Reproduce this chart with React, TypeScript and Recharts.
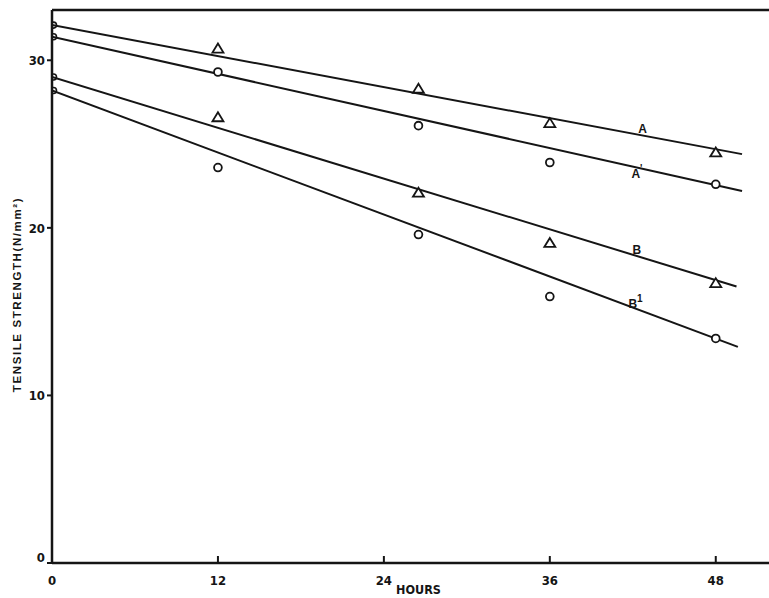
import { ComposedChart, Line, Scatter, XAxis, YAxis, ReferenceLine } from 'recharts';

// hours at which samples were tested (0 h points sit on the axis)
const hours = [12, 26.5, 36, 48];
const triA = [30.7, 28.3, 26.25, 24.5];
const circA1 = [29.3, 26.1, 23.9, 22.6];
const triB = [26.6, 22.1, 19.1, 16.7];
const circB1 = [23.6, 19.6, 15.9, 13.4];
const startVals = [32.1, 31.4, 29.0, 28.2];

// fitted straight lines: value at 0 h and at their right end
const fitStart = [32.1, 31.4, 29.0, 28.2];
const fitEnd = [24.4, 22.2, 16.5, 12.9];
const fitEndHour = [49.9, 49.9, 49.5, 49.6];

const curveNames = ['A', 'A', 'B', 'B'];
const curveSup = ['', "'", '', '1'];
const labelHour = [42.7, 42.3, 42.3, 42.2];
const labelVal = [25.95, 23.3, 18.75, 15.5];

const xTicks = [0, 12, 24, 36, 48];
const yTicks = [0, 10, 20, 30];

const INK = '#151515';
const tickFont = '"DejaVu Sans Condensed", "DejaVu Sans", sans-serif';
const labelFont = '"Liberation Sans", Arial, sans-serif';

const pts = (vals: number[]) => vals.map((y, i) => ({ x: hours[i], y }));
const fits = fitStart.map((s, i) => [
  { x: 0, y: s },
  { x: fitEndHour[i], y: fitEnd[i] },
]);
const starts = startVals.map((y) => ({ x: 0, y }));
const names = curveNames.map((n, i) => ({ x: labelHour[i], y: labelVal[i], n, sup: curveSup[i] }));

function HourTick({ x, y, payload }: any) {
  return (
    <g>
      {payload.value !== 0 && (
        <line x1={x} x2={x} y1={y} y2={y - 7} stroke={INK} strokeWidth={2} />
      )}
      <text x={x} y={y + 22} textAnchor="middle" fill={INK} fontSize={13} fontWeight="bold" fontFamily={tickFont}>
        {payload.value}
      </text>
    </g>
  );
}

function ValueTick({ x, y, payload }: any) {
  const lift = payload.value === 0 ? -6 : 0;
  return (
    <text x={x} y={y + lift + 5} textAnchor="end" fill={INK} fontSize={13} fontWeight="bold" fontFamily={tickFont}>
      {payload.value}
    </text>
  );
}

const Tri = ({ cx, cy }: any) => (
  <path d={`M${cx},${cy - 5} L${cx + 5.5},${cy + 4} L${cx - 5.5},${cy + 4} Z`} fill="#fff" stroke={INK} strokeWidth={1.8} />
);
const Ring = ({ cx, cy }: any) => <circle cx={cx} cy={cy} r={3.9} fill="#fff" stroke={INK} strokeWidth={1.8} />;
const SmallRing = ({ cx, cy }: any) => <circle cx={cx + 1.5} cy={cy} r={3} fill="none" stroke={INK} strokeWidth={1.6} />;
const Name = ({ cx, cy, payload }: any) => (
  <text x={cx} y={cy + 5} textAnchor="middle" fill={INK} fontSize={12} fontWeight="bold" fontFamily={labelFont}>
    {payload.n}
    {payload.sup && (
      <tspan dy={-6} fontSize={10}>
        {payload.sup}
      </tspan>
    )}
  </text>
);

export default function App() {
  return (
    <div style={{ position: 'absolute', left: 0, top: 0, width: 769, height: 598, background: '#fff' }}>
      <ComposedChart width={769} height={598} margin={{ top: 10, right: 0, bottom: 0, left: 0 }}>
        <XAxis
          dataKey="x"
          type="number"
          domain={[0, 51.85]}
          ticks={xTicks}
          allowDataOverflow
          height={35}
          tickSize={0}
          tickMargin={0}
          tick={<HourTick />}
          axisLine={{ stroke: INK, strokeWidth: 2.5 }}
          label={{ value: 'HOURS', position: 'insideBottom', offset: 4, dx: 8, fill: INK, fontSize: 12.5, fontWeight: 'bold', fontFamily: tickFont }}
        />
        <YAxis
          dataKey="y"
          type="number"
          domain={[0, 33]}
          ticks={yTicks}
          allowDataOverflow
          width={52}
          tickSize={5}
          tickMargin={2}
          tick={<ValueTick />}
          tickLine={{ stroke: INK, strokeWidth: 2 }}
          axisLine={{ stroke: INK, strokeWidth: 2.5 }}
          label={{
            value: 'TENSILE  STRENGTH(N/mm²)',
            angle: -90,
            position: 'insideLeft',
            offset: 17,
            dy: 8,
            fill: INK,
            fontSize: 11.5,
            fontWeight: 'bold',
            fontFamily: labelFont,
            style: { textAnchor: 'middle', letterSpacing: '1.6px' },
          }}
        />
        <ReferenceLine y={33} stroke={INK} strokeWidth={2.5} />
        {fits.map((d, i) => (
          <Line
            key={i}
            data={d}
            dataKey="y"
            type="linear"
            stroke={INK}
            strokeWidth={2}
            dot={false}
            activeDot={false}
            isAnimationActive={false}
          />
        ))}
        <Scatter data={starts} shape={<SmallRing />} isAnimationActive={false} />
        <Scatter data={pts(triA)} shape={<Tri />} isAnimationActive={false} />
        <Scatter data={pts(circA1)} shape={<Ring />} isAnimationActive={false} />
        <Scatter data={pts(triB)} shape={<Tri />} isAnimationActive={false} />
        <Scatter data={pts(circB1)} shape={<Ring />} isAnimationActive={false} />
        <Scatter data={names} shape={<Name />} isAnimationActive={false} />
      </ComposedChart>
    </div>
  );
}
